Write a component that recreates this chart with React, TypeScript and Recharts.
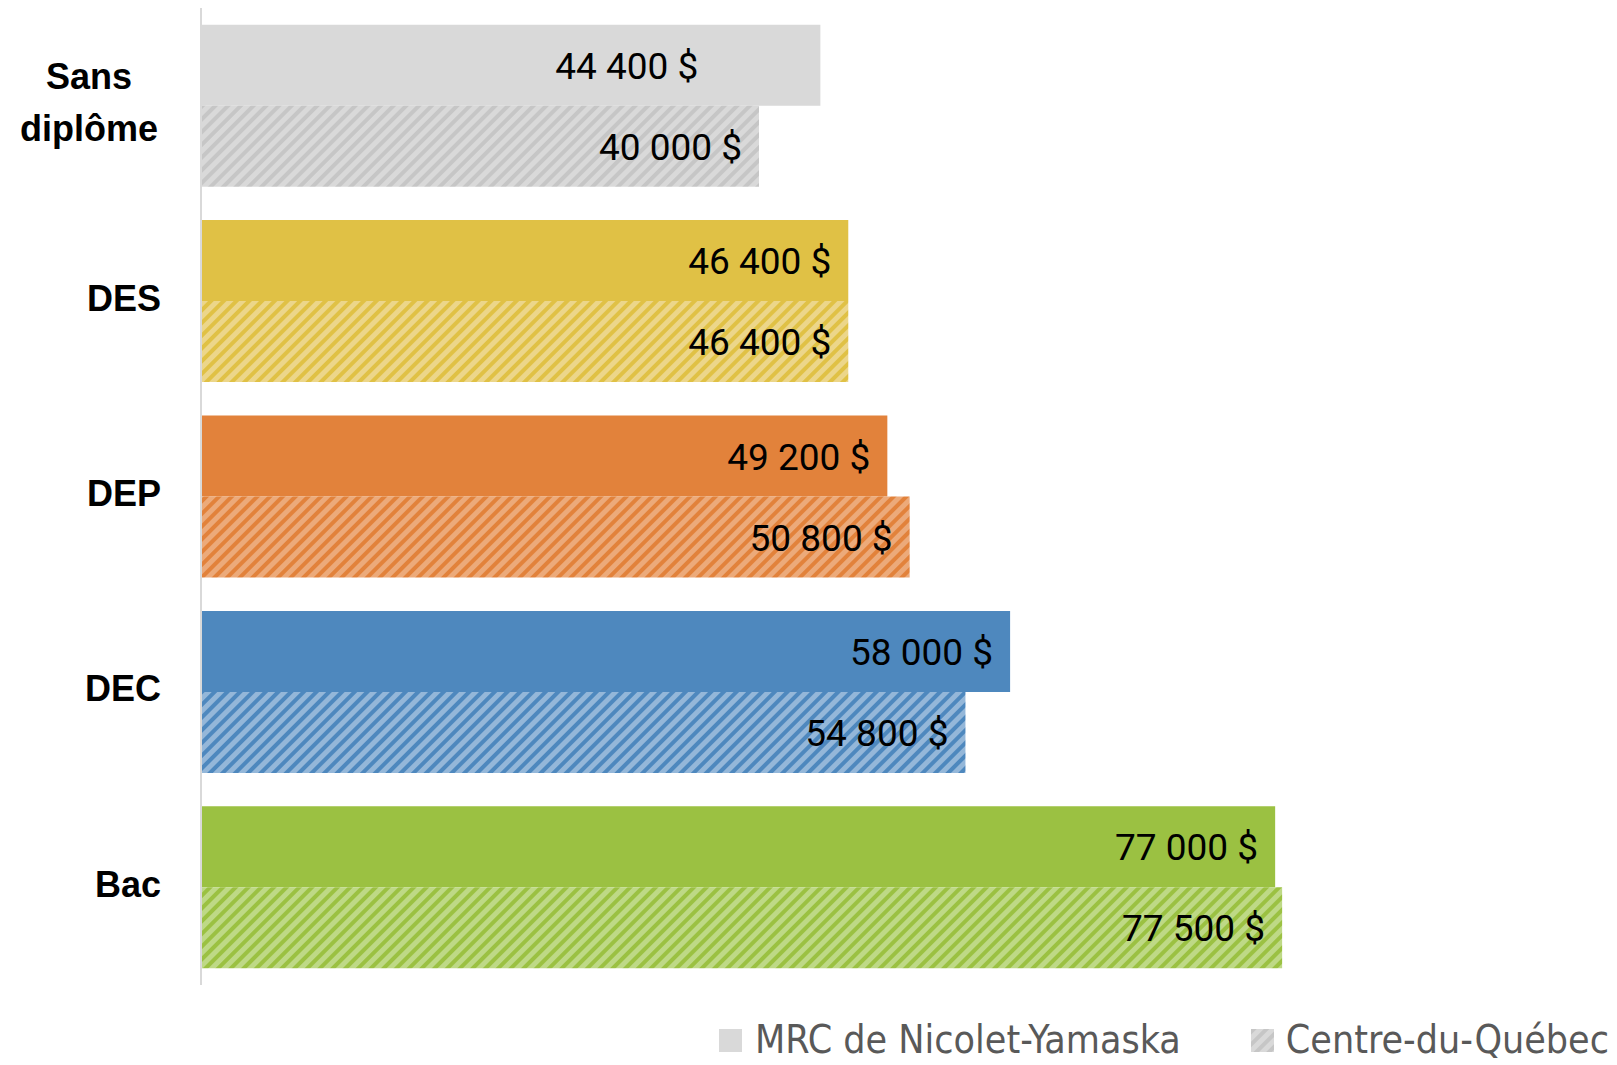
import React from "react";
import { BarChart, Bar, XAxis, YAxis, Cell, Legend, LabelList } from "recharts";

const categories = ["Sans diplôme", "DES", "DEP", "DEC", "Bac"];
const mrcValues = [44400, 46400, 49200, 58000, 77000];
const cdqValues = [40000, 46400, 50800, 54800, 77500];
const seriesNames = ["MRC de Nicolet-Yamaska", "Centre-du-Québec"];

const solidColors = ["#d9d9d9", "#e0c145", "#e2823b", "#4e88be", "#9bc142"];
const hatchBg = ["#d9d9d9", "#ecd68a", "#ecaa7a", "#94b7d9", "#bed986"];
const hatchStripe = ["#c6c6c6", "#e0c145", "#e2823b", "#4e88be", "#9bc142"];

const data = categories.map((name, i) => ({ name, mrc: mrcValues[i], cdq: cdqValues[i] }));

const fmt = (v: number) => {
  const s = Math.round(v).toString();
  return s.replace(/\B(?=(\d{3})+(?!\d))/g, " ") + " $";
};

const W = 1617;
const H = 1065;

const CategoryTick = (props: any) => {
  const { x, y, payload } = props;
  const words = String(payload.value).split(" ");
  const lines = words.length > 1 ? words : [payload.value];
  const lh = 51.5;
  const start = -((lines.length - 1) * lh) / 2 - 3;
  const multi = lines.length > 1;
  return (
    <g>
      {lines.map((ln: string, i: number) => (
        <text
          key={i}
          x={multi ? x - 104 : x - 32}
          y={y + start + i * lh}
          textAnchor={multi ? "middle" : "end"}
          dominantBaseline="central"
          fontFamily="'Liberation Sans', Arial, sans-serif"
          fontWeight={700}
          fontSize={36}
          fill="#000"
        >
          {ln}
        </text>
      ))}
    </g>
  );
};

const makeLabel = (series: string) => (props: any) => {
  const { x, y, width, height, value, index } = props;
  const off = series === "mrc" && index === 0 ? 122 : 17;
  return (
    <text
      x={x + width - off}
      y={y + height / 2 + 1}
      textAnchor="end"
      dominantBaseline="central"
      fontFamily="Roboto, sans-serif"
      fontSize={37}
      fill="#000"
    >
      {fmt(value)}
    </text>
  );
};

const LegendContent = () => (
  <div
    style={{
      height: 80,
      width: W,
      display: "flex",
      justifyContent: "flex-end",
      alignItems: "flex-start",
      paddingTop: 35,
      paddingRight: 8,
      boxSizing: "border-box",
      fontFamily: "'Liberation Sans Narrow', 'DejaVu Sans Condensed', 'Roboto', sans-serif",
      fontSize: 39,
      color: "#595959",
      lineHeight: "40px",
    }}
  >
    <div style={{ display: "flex", alignItems: "center", marginRight: 70, height: 40 }}>
      <svg width={23} height={23} style={{ marginRight: 13 }}>
        <rect width={23} height={23} fill="#d9d9d9" />
      </svg>
      <span>{seriesNames[0]}</span>
    </div>
    <div style={{ display: "flex", alignItems: "center", height: 40 }}>
      <svg width={23} height={23} style={{ marginRight: 12 }}>
        <rect width={23} height={23} fill="url(#hatch0)" />
      </svg>
      <span>{seriesNames[1]}</span>
    </div>
  </div>
);

export default function App() {
  return (
    <div style={{ position: "absolute", left: 0, top: 0, width: W, height: H, background: "#fff" }}>
      <svg width={0} height={0} style={{ position: "absolute" }}>
        <defs>
          {hatchBg.map((bg, i) => (
            <pattern
              key={i}
              id={`hatch${i}`}
              patternUnits="userSpaceOnUse"
              width={9}
              height={9}
              patternTransform="rotate(45)"
            >
              <rect width={9} height={9} fill={bg} />
              <rect width={4} height={9} fill={hatchStripe[i]} />
            </pattern>
          ))}
        </defs>
      </svg>
      <BarChart
        width={W}
        height={H}
        data={data}
        layout="vertical"
        margin={{ top: 8, right: 21, bottom: 0, left: 0 }}
        barCategoryGap={16.7}
        barGap={0}
      >
        <XAxis type="number" domain={[0, 100000]} hide />
        <YAxis
          type="category"
          dataKey="name"
          width={201}
          axisLine={{ stroke: "#d9d9d9", strokeWidth: 2 }}
          tickLine={false}
          tick={<CategoryTick />}
          interval={0}
        />
        <Legend
          verticalAlign="bottom"
          align="right"
          wrapperStyle={{ left: 0, right: "auto", width: W }}
          content={<LegendContent />}
        />
        <Bar dataKey="mrc" name={seriesNames[0]} isAnimationActive={false}>
          {data.map((_, i) => (
            <Cell key={i} fill={solidColors[i]} />
          ))}
          <LabelList dataKey="mrc" content={makeLabel("mrc")} />
        </Bar>
        <Bar dataKey="cdq" name={seriesNames[1]} isAnimationActive={false}>
          {data.map((_, i) => (
            <Cell key={i} fill={`url(#hatch${i})`} />
          ))}
          <LabelList dataKey="cdq" content={makeLabel("cdq")} />
        </Bar>
      </BarChart>
    </div>
  );
}
